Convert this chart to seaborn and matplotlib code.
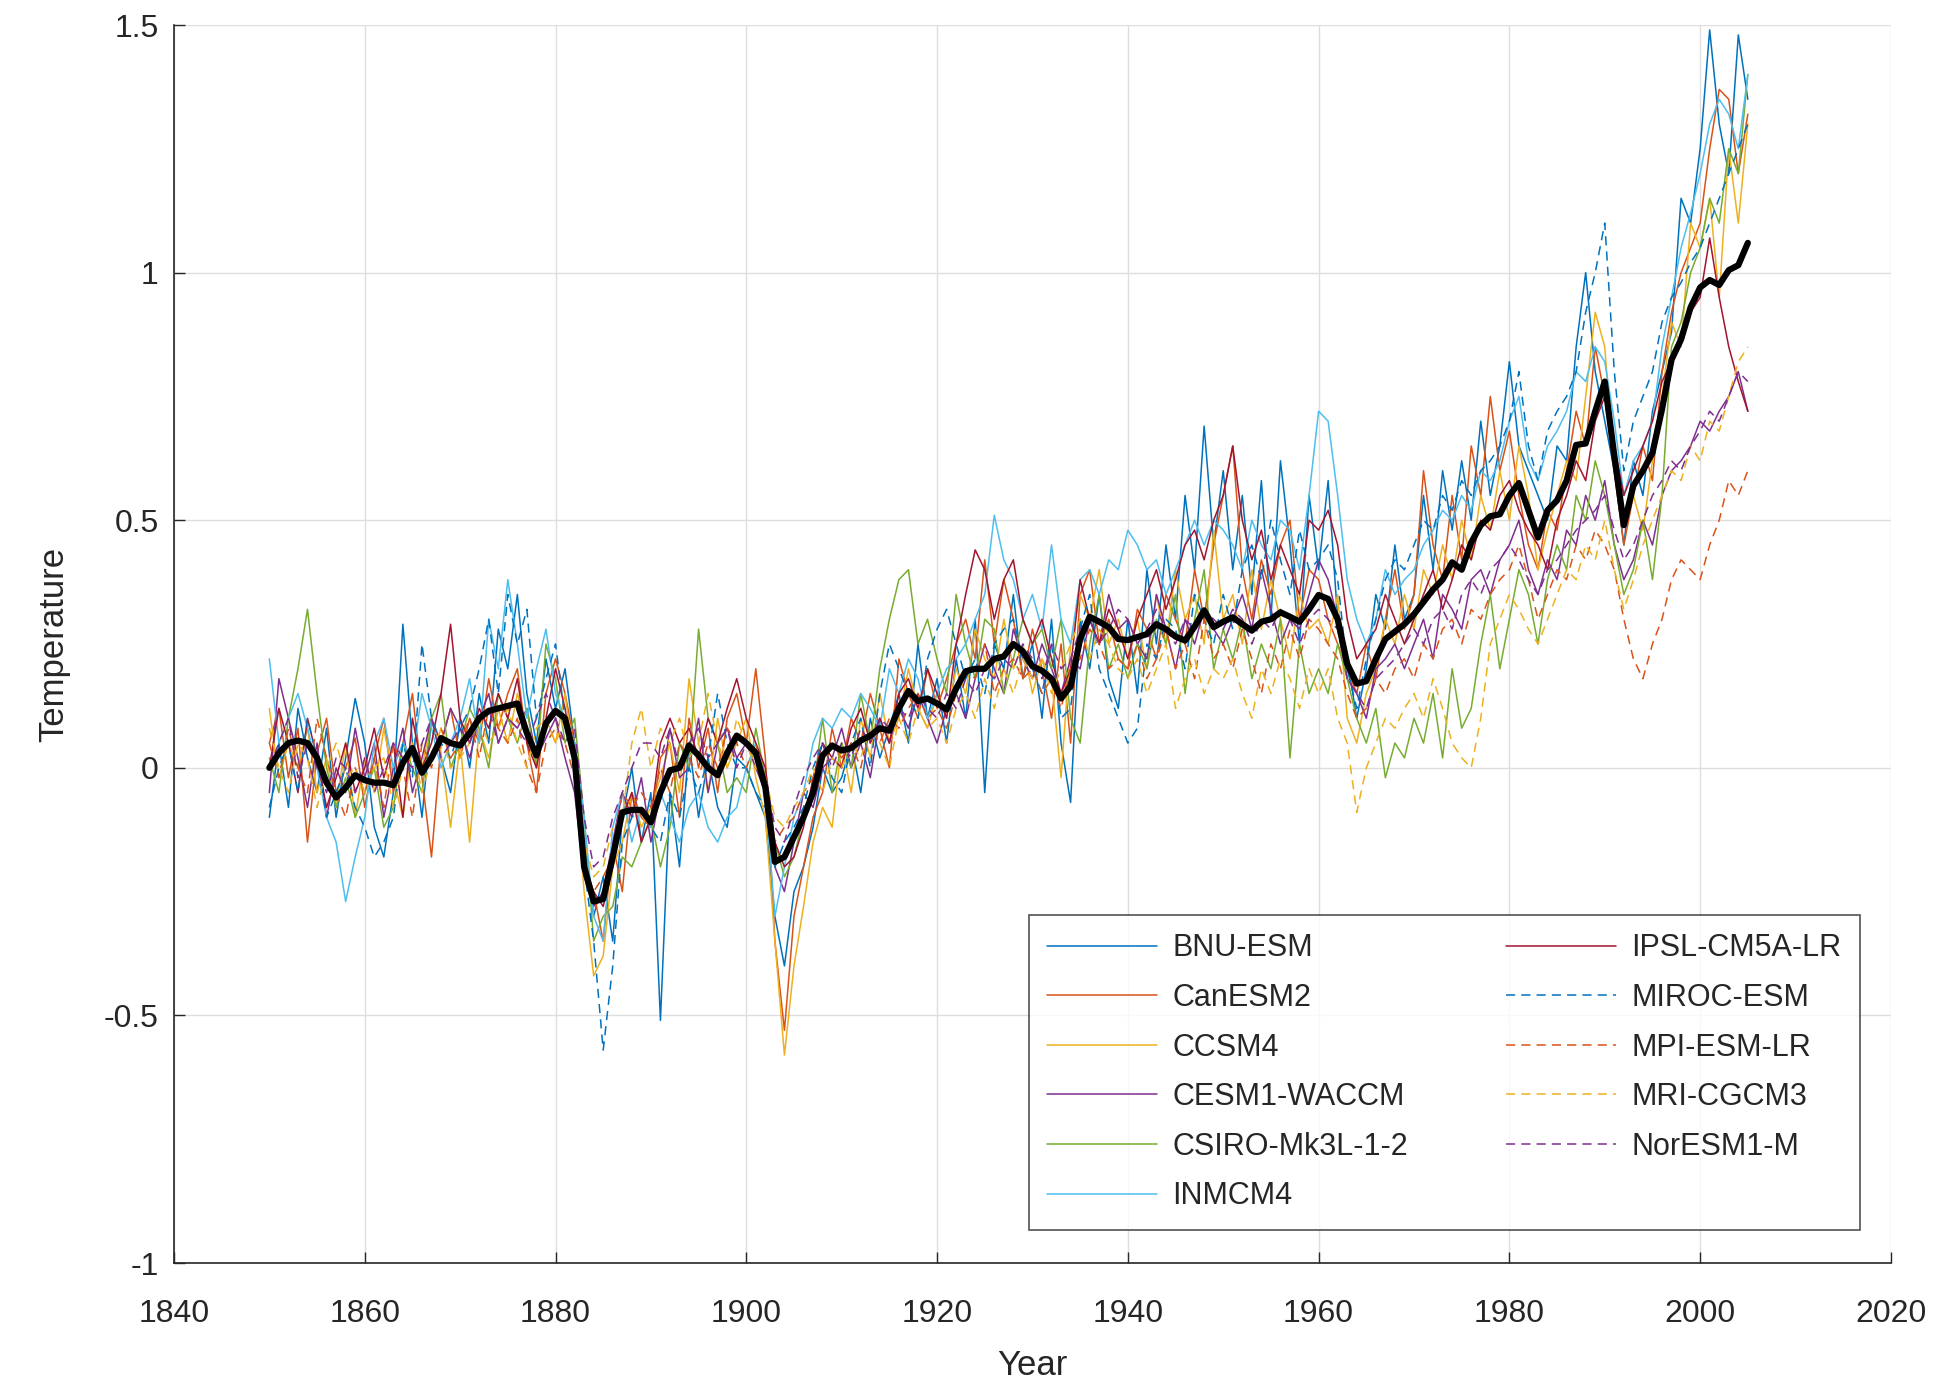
import numpy as np
import pandas as pd
import matplotlib
matplotlib.use("Agg")
import matplotlib.pyplot as plt
import seaborn as sns

years = list(range(1850, 2006))

model_names = ["BNU-ESM", "CanESM2", "CCSM4", "CESM1-WACCM", "CSIRO-Mk3L-1-2", "INMCM4",
               "IPSL-CM5A-LR", "MIROC-ESM", "MPI-ESM-LR", "MRI-CGCM3", "NorESM1-M"]

bnu_esm = [
    -0.10, 0.05, -0.08, 0.12, 0.02, -0.05, 0.08, -0.10, 0.02, 0.14,
    0.05, -0.12, -0.18, -0.05, 0.29, 0.05, -0.10, 0.10, 0.02, -0.05,
    0.10, 0.00, 0.15, 0.05, 0.28, 0.20, 0.35, 0.15, 0.05, 0.22,
    0.12, 0.20, 0.05, -0.15, -0.30, -0.22, -0.35, -0.10, 0.00, -0.15,
    -0.05, -0.51, -0.05, -0.20, 0.05, -0.10, 0.02, -0.08, -0.12, 0.02,
    0.00, -0.05, -0.10, -0.30, -0.40, -0.25, -0.20, -0.12, 0.00, -0.05,
    -0.02, 0.05, -0.05, 0.10, 0.02, 0.08, 0.15, 0.05, 0.25, 0.10,
    0.18, 0.05, 0.22, 0.10, 0.30, -0.05, 0.25, 0.20, 0.35, 0.18,
    0.25, 0.10, 0.30, 0.05, -0.07, 0.30, 0.20, 0.35, 0.18, 0.12,
    0.30, 0.15, 0.40, 0.25, 0.45, 0.30, 0.55, 0.40, 0.69, 0.45,
    0.60, 0.40, 0.55, 0.35, 0.58, 0.30, 0.62, 0.45, 0.25, 0.55,
    0.40, 0.58, 0.30, 0.22, 0.10, 0.20, 0.35, 0.28, 0.45, 0.30,
    0.35, 0.55, 0.40, 0.60, 0.48, 0.62, 0.50, 0.70, 0.55, 0.65,
    0.82, 0.65, 0.60, 0.55, 0.50, 0.65, 0.62, 0.85, 1.00, 0.80,
    0.70, 0.60, 0.45, 0.62, 0.55, 0.72, 0.80, 0.88, 1.15, 1.10,
    1.25, 1.49, 1.30, 1.20, 1.48, 1.35]

canesm2 = [
    0.05, 0.12, -0.02, 0.08, -0.15, 0.03, 0.10, -0.05, 0.00, 0.06,
    -0.08, 0.02, 0.10, -0.05, 0.05, 0.15, -0.02, -0.18, 0.05, 0.12,
    0.02, 0.10, 0.05, 0.18, 0.08, 0.15, 0.20, 0.05, -0.05, 0.15,
    0.22, 0.15, 0.05, -0.20, -0.25, -0.35, -0.15, -0.25, -0.05, -0.10,
    -0.12, 0.02, 0.05, -0.10, 0.10, 0.00, 0.08, -0.05, 0.10, 0.15,
    0.05, 0.20, 0.02, -0.35, -0.53, -0.30, -0.20, -0.10, -0.05, 0.08,
    0.00, 0.10, 0.05, 0.15, 0.08, 0.00, 0.22, 0.15, 0.10, 0.20,
    0.12, 0.18, 0.25, 0.30, 0.22, 0.42, 0.25, 0.38, 0.30, 0.18,
    0.28, 0.20, 0.10, 0.25, 0.05, 0.35, 0.40, 0.25, 0.30, 0.22,
    0.20, 0.32, 0.28, 0.22, 0.35, 0.30, 0.25, 0.40, 0.30, 0.45,
    0.55, 0.65, 0.40, 0.30, 0.42, 0.35, 0.45, 0.50, 0.30, 0.40,
    0.38, 0.30, 0.25, 0.20, 0.15, 0.25, 0.18, 0.30, 0.40, 0.28,
    0.35, 0.60, 0.45, 0.38, 0.55, 0.42, 0.65, 0.55, 0.75, 0.60,
    0.68, 0.55, 0.45, 0.40, 0.52, 0.48, 0.60, 0.72, 0.65, 0.85,
    0.75, 0.60, 0.45, 0.55, 0.65, 0.58, 0.80, 0.92, 1.00, 1.05,
    1.10, 1.25, 1.37, 1.35, 1.20, 1.32]

ccsm4 = [
    0.12, -0.02, 0.05, 0.00, 0.08, -0.05, 0.02, -0.08, 0.05, -0.10,
    0.02, -0.05, 0.08, -0.02, -0.10, 0.05, 0.00, 0.10, 0.03, -0.12,
    0.05, -0.15, 0.08, 0.02, 0.12, 0.05, 0.15, 0.08, 0.00, 0.10,
    0.05, 0.15, 0.00, -0.25, -0.42, -0.38, -0.20, -0.15, -0.05, -0.12,
    -0.08, -0.02, 0.05, -0.05, 0.18, 0.05, -0.05, 0.10, 0.00, 0.05,
    0.10, -0.02, -0.10, -0.35, -0.58, -0.40, -0.28, -0.15, -0.08, -0.12,
    0.05, -0.05, 0.10, 0.02, 0.15, 0.05, 0.10, 0.20, 0.12, 0.08,
    0.15, 0.10, 0.20, 0.15, 0.28, 0.22, 0.18, 0.30, 0.20, 0.25,
    0.15, 0.22, 0.18, -0.02, 0.25, 0.35, 0.30, 0.40, 0.25, 0.30,
    0.22, 0.30, 0.20, 0.35, 0.25, 0.40, 0.30, 0.35, 0.25, 0.48,
    0.30, 0.35, 0.25, 0.40, 0.28, 0.38, 0.30, 0.22, 0.35, 0.28,
    0.30, 0.25, 0.35, 0.10, 0.05, 0.15, 0.20, 0.30, 0.25, 0.35,
    0.28, 0.40, 0.35, 0.45, 0.38, 0.50, 0.42, 0.55, 0.48, 0.60,
    0.50, 0.65, 0.55, 0.40, 0.48, 0.55, 0.62, 0.58, 0.75, 0.92,
    0.85, 0.60, 0.50, 0.55, 0.48, 0.62, 0.75, 0.90, 0.85, 1.10,
    1.05, 1.15, 0.95, 1.25, 1.10, 1.30]

cesm1_waccm = [
    -0.05, 0.18, 0.10, 0.02, -0.08, 0.05, -0.10, 0.00, -0.05, 0.08,
    -0.02, 0.05, -0.10, 0.00, 0.08, -0.05, 0.02, 0.10, 0.05, 0.12,
    0.08, 0.02, 0.10, 0.15, 0.05, 0.10, 0.08, 0.12, 0.02, 0.06,
    0.10, 0.02, -0.05, -0.22, -0.28, -0.25, -0.15, -0.05, -0.10, -0.02,
    -0.15, -0.05, 0.08, -0.02, 0.00, 0.10, -0.05, 0.05, 0.08, 0.02,
    0.05, 0.00, -0.05, -0.20, -0.25, -0.15, -0.05, -0.08, 0.00, 0.02,
    0.08, 0.00, 0.05, -0.02, 0.10, 0.05, 0.12, 0.08, 0.15, 0.10,
    0.05, 0.12, 0.15, 0.10, 0.18, 0.25, 0.20, 0.15, 0.28, 0.22,
    0.18, 0.25, 0.20, 0.15, 0.22, 0.20, 0.30, 0.25, 0.35, 0.28,
    0.30, 0.25, 0.22, 0.35, 0.28, 0.20, 0.30, 0.25, 0.32, 0.28,
    0.25, 0.30, 0.35, 0.28, 0.40, 0.32, 0.25, 0.30, 0.28, 0.35,
    0.42, 0.38, 0.30, 0.18, 0.15, 0.10, 0.20, 0.22, 0.25, 0.20,
    0.25, 0.30, 0.22, 0.35, 0.32, 0.28, 0.38, 0.40, 0.35, 0.42,
    0.45, 0.50, 0.40, 0.35, 0.42, 0.38, 0.48, 0.45, 0.55, 0.50,
    0.58, 0.45, 0.38, 0.42, 0.50, 0.45, 0.55, 0.60, 0.62, 0.65,
    0.70, 0.68, 0.72, 0.75, 0.80, 0.72]

csiro_mk3l = [
    0.02, -0.05, 0.10, 0.20, 0.32, 0.15, 0.00, -0.08, -0.02, -0.10,
    -0.05, 0.00, -0.12, -0.08, 0.05, 0.00, -0.05, 0.10, 0.15, 0.00,
    0.05, 0.12, 0.08, 0.00, 0.15, 0.10, 0.05, 0.12, 0.00, 0.25,
    0.18, 0.05, 0.10, -0.10, -0.35, -0.30, -0.28, -0.18, -0.20, -0.15,
    -0.10, -0.20, -0.12, 0.05, 0.00, 0.28, 0.10, 0.05, -0.05, -0.02,
    -0.05, 0.08, -0.02, -0.15, -0.22, -0.18, -0.10, -0.05, 0.10, -0.05,
    0.05, 0.00, 0.15, 0.05, 0.20, 0.30, 0.38, 0.40, 0.25, 0.30,
    0.22, 0.15, 0.35, 0.25, 0.18, 0.30, 0.28, 0.15, 0.22, 0.30,
    0.25, 0.28, 0.20, 0.30, 0.10, 0.05, 0.25, 0.35, 0.20, 0.25,
    0.18, 0.25, 0.20, 0.30, 0.25, 0.35, 0.15, 0.30, 0.40, 0.20,
    0.28, 0.22, 0.30, 0.18, 0.25, 0.20, 0.30, 0.02, 0.25, 0.15,
    0.20, 0.15, 0.25, 0.18, 0.10, 0.05, 0.12, -0.02, 0.05, 0.02,
    0.10, 0.05, 0.15, 0.02, 0.20, 0.08, 0.12, 0.25, 0.35, 0.20,
    0.30, 0.40, 0.35, 0.25, 0.38, 0.45, 0.40, 0.55, 0.50, 0.62,
    0.55, 0.45, 0.35, 0.40, 0.50, 0.38, 0.55, 0.85, 0.90, 1.00,
    1.05, 1.15, 1.10, 1.25, 1.20, 1.40]

inmcm4 = [
    0.22, 0.05, 0.10, 0.15, 0.08, 0.00, -0.10, -0.15, -0.27, -0.18,
    -0.10, 0.05, 0.10, 0.00, 0.05, 0.02, 0.15, 0.08, 0.00, 0.05,
    0.10, 0.18, 0.05, 0.30, 0.20, 0.38, 0.25, 0.10, 0.20, 0.28,
    0.15, 0.10, 0.05, -0.10, -0.30, -0.35, -0.12, -0.05, -0.15, -0.08,
    -0.12, -0.05, -0.10, -0.15, -0.08, -0.05, -0.12, -0.15, -0.10, -0.08,
    0.00, 0.05, -0.05, -0.30, -0.20, -0.10, -0.05, 0.05, 0.10, 0.08,
    0.12, 0.10, 0.15, 0.12, 0.08, 0.20, 0.15, 0.22, 0.18, 0.10,
    0.15, 0.20, 0.22, 0.25, 0.30, 0.35, 0.51, 0.42, 0.38, 0.30,
    0.35, 0.28, 0.45, 0.30, 0.25, 0.38, 0.40, 0.35, 0.42, 0.40,
    0.48, 0.45, 0.40, 0.42, 0.35, 0.40, 0.45, 0.50, 0.45, 0.50,
    0.48, 0.45, 0.40, 0.50, 0.45, 0.42, 0.50, 0.48, 0.40, 0.55,
    0.72, 0.70, 0.55, 0.38, 0.30, 0.25, 0.30, 0.40, 0.35, 0.38,
    0.40, 0.45, 0.48, 0.52, 0.50, 0.55, 0.52, 0.60, 0.58, 0.62,
    0.70, 0.75, 0.62, 0.58, 0.65, 0.68, 0.72, 0.80, 0.78, 0.85,
    0.82, 0.70, 0.55, 0.62, 0.65, 0.70, 0.85, 0.95, 1.05, 1.12,
    1.20, 1.30, 1.35, 1.32, 1.25, 1.40]

ipsl_cm5a_lr = [
    0.00, 0.12, 0.05, -0.05, 0.10, 0.02, -0.08, -0.02, 0.05, -0.05,
    0.00, 0.08, -0.02, 0.05, -0.10, 0.10, 0.00, 0.05, 0.15, 0.29,
    0.10, 0.05, 0.12, 0.08, 0.15, 0.10, 0.18, 0.05, 0.00, 0.10,
    0.20, 0.12, 0.00, -0.20, -0.25, -0.28, -0.20, -0.10, -0.05, -0.15,
    -0.10, 0.05, 0.10, 0.05, 0.08, 0.02, 0.10, 0.05, 0.12, 0.18,
    0.10, 0.05, 0.00, -0.15, -0.20, -0.18, -0.12, -0.02, 0.05, 0.02,
    0.00, 0.08, 0.12, 0.05, 0.10, 0.05, 0.15, 0.18, 0.12, 0.20,
    0.15, 0.10, 0.25, 0.35, 0.44, 0.40, 0.30, 0.38, 0.42, 0.30,
    0.25, 0.30, 0.22, 0.15, 0.20, 0.38, 0.30, 0.25, 0.32, 0.28,
    0.22, 0.30, 0.35, 0.40, 0.32, 0.38, 0.45, 0.48, 0.42, 0.50,
    0.55, 0.65, 0.50, 0.42, 0.48, 0.38, 0.45, 0.40, 0.35, 0.50,
    0.48, 0.52, 0.45, 0.30, 0.22, 0.25, 0.28, 0.35, 0.30, 0.25,
    0.30, 0.35, 0.40, 0.32, 0.38, 0.45, 0.42, 0.50, 0.48, 0.55,
    0.58, 0.52, 0.48, 0.45, 0.40, 0.50, 0.55, 0.62, 0.58, 0.70,
    0.75, 0.65, 0.55, 0.60, 0.65, 0.70, 0.78, 0.82, 0.88, 0.92,
    0.95, 1.07, 0.95, 0.85, 0.78, 0.72]

miroc_esm = [
    -0.08, 0.00, 0.05, -0.05, 0.10, 0.02, -0.10, -0.05, 0.00, -0.08,
    -0.12, -0.18, -0.15, -0.10, 0.05, -0.02, 0.25, 0.10, 0.05, 0.02,
    0.08, 0.12, 0.20, 0.30, 0.15, 0.35, 0.25, 0.32, 0.10, 0.18,
    0.25, 0.10, 0.00, -0.20, -0.35, -0.57, -0.40, -0.15, -0.10, -0.08,
    -0.12, -0.15, -0.05, -0.10, 0.00, -0.05, 0.02, 0.15, 0.05, 0.00,
    0.00, -0.05, -0.08, -0.20, -0.15, -0.12, -0.08, 0.00, 0.05, -0.02,
    -0.05, 0.05, 0.10, 0.00, 0.15, 0.25, 0.20, 0.15, 0.10, 0.22,
    0.28, 0.32, 0.25, 0.18, 0.22, 0.15, 0.25, 0.28, 0.30, 0.22,
    0.20, 0.15, 0.25, 0.10, 0.12, 0.28, 0.35, 0.20, 0.15, 0.10,
    0.05, 0.08, 0.25, 0.22, 0.30, 0.28, 0.20, 0.35, 0.30, 0.25,
    0.35, 0.28, 0.40, 0.45, 0.38, 0.50, 0.42, 0.35, 0.48, 0.40,
    0.42, 0.45, 0.38, 0.20, 0.12, 0.22, 0.30, 0.38, 0.42, 0.40,
    0.45, 0.50, 0.48, 0.55, 0.52, 0.58, 0.55, 0.60, 0.62, 0.65,
    0.70, 0.80, 0.65, 0.58, 0.68, 0.72, 0.75, 0.80, 0.92, 1.00,
    1.10, 0.80, 0.60, 0.70, 0.75, 0.80, 0.90, 0.95, 0.98, 1.02,
    1.05, 1.10, 1.15, 1.20, 1.25, 1.30]

mpi_esm_lr = [
    0.05, -0.02, 0.08, 0.00, -0.05, 0.10, 0.02, -0.05, -0.10, 0.00,
    -0.05, 0.02, -0.08, 0.05, 0.00, -0.10, 0.05, 0.00, 0.08, 0.02,
    0.05, 0.10, 0.02, 0.12, 0.08, 0.05, 0.10, 0.00, -0.05, 0.05,
    0.08, 0.05, -0.02, -0.20, -0.25, -0.22, -0.18, -0.05, -0.08, -0.05,
    -0.08, 0.00, -0.05, 0.05, 0.02, -0.02, 0.05, 0.00, 0.08, 0.05,
    0.00, 0.05, -0.05, -0.15, -0.12, -0.10, -0.05, -0.02, 0.02, 0.05,
    0.02, 0.05, 0.00, 0.08, 0.05, 0.10, 0.08, 0.12, 0.15, 0.10,
    0.12, 0.08, 0.15, 0.20, 0.18, 0.25, 0.15, 0.20, 0.22, 0.18,
    0.20, 0.15, 0.18, 0.12, 0.20, 0.22, 0.28, 0.25, 0.20, 0.22,
    0.20, 0.25, 0.18, 0.22, 0.28, 0.20, 0.25, 0.18, 0.30, 0.22,
    0.25, 0.20, 0.28, 0.22, 0.15, 0.25, 0.20, 0.28, 0.22, 0.30,
    0.28, 0.25, 0.22, 0.15, 0.10, 0.12, 0.18, 0.15, 0.20, 0.22,
    0.18, 0.25, 0.22, 0.28, 0.30, 0.25, 0.32, 0.30, 0.35, 0.38,
    0.40, 0.45, 0.38, 0.30, 0.35, 0.40, 0.38, 0.45, 0.42, 0.48,
    0.45, 0.40, 0.30, 0.22, 0.18, 0.25, 0.30, 0.38, 0.42, 0.40,
    0.38, 0.45, 0.50, 0.58, 0.55, 0.60]

mri_cgcm3 = [
    0.08, 0.00, -0.05, 0.05, 0.02, -0.08, 0.00, 0.05, -0.02, 0.00,
    -0.05, 0.00, 0.02, -0.08, 0.00, 0.05, -0.05, 0.02, 0.08, 0.00,
    0.02, 0.05, 0.10, 0.05, 0.08, 0.12, 0.05, 0.00, 0.08, 0.10,
    0.05, 0.10, 0.00, -0.15, -0.22, -0.20, -0.12, -0.10, 0.05, 0.12,
    0.00, 0.08, 0.05, 0.10, 0.02, 0.05, 0.15, 0.05, 0.00, 0.10,
    0.05, 0.00, -0.02, -0.10, -0.12, -0.08, -0.05, 0.00, -0.05, 0.02,
    0.00, 0.05, 0.02, 0.08, 0.05, 0.00, 0.10, 0.05, 0.12, 0.08,
    0.10, 0.05, 0.12, 0.15, 0.10, 0.18, 0.12, 0.20, 0.15, 0.22,
    0.18, 0.22, 0.15, 0.20, 0.25, 0.30, 0.22, 0.28, 0.25, 0.20,
    0.18, 0.22, 0.15, 0.20, 0.25, 0.12, 0.18, 0.22, 0.15, 0.20,
    0.18, 0.22, 0.15, 0.10, 0.20, 0.15, 0.22, 0.18, 0.12, 0.20,
    0.15, 0.20, 0.10, 0.05, -0.09, 0.00, 0.05, 0.10, 0.08, 0.12,
    0.15, 0.10, 0.18, 0.12, 0.05, 0.02, 0.00, 0.10, 0.25, 0.30,
    0.35, 0.32, 0.28, 0.25, 0.30, 0.35, 0.40, 0.38, 0.45, 0.42,
    0.50, 0.40, 0.32, 0.38, 0.45, 0.50, 0.55, 0.60, 0.58, 0.65,
    0.62, 0.70, 0.68, 0.75, 0.82, 0.85]

noresm1_m = [
    0.00, 0.05, 0.10, -0.02, 0.05, 0.00, -0.05, 0.02, 0.00, -0.05,
    0.02, -0.05, 0.00, 0.05, 0.02, 0.00, 0.05, 0.10, 0.02, 0.05,
    0.08, 0.05, 0.10, 0.12, 0.05, 0.10, 0.08, 0.05, 0.10, 0.15,
    0.10, 0.05, 0.08, -0.10, -0.20, -0.18, -0.10, -0.05, 0.00, 0.05,
    0.05, 0.02, 0.08, 0.00, 0.05, 0.08, 0.02, 0.05, 0.08, 0.00,
    0.05, 0.02, -0.02, -0.12, -0.15, -0.08, -0.02, 0.02, 0.05, 0.00,
    0.05, 0.02, 0.08, 0.05, 0.10, 0.08, 0.12, 0.10, 0.15, 0.12,
    0.10, 0.15, 0.12, 0.18, 0.15, 0.20, 0.18, 0.22, 0.20, 0.25,
    0.22, 0.18, 0.25, 0.20, 0.22, 0.28, 0.30, 0.25, 0.28, 0.32,
    0.30, 0.25, 0.28, 0.32, 0.28, 0.25, 0.30, 0.28, 0.32, 0.30,
    0.28, 0.32, 0.30, 0.25, 0.30, 0.28, 0.32, 0.30, 0.25, 0.30,
    0.32, 0.30, 0.28, 0.18, 0.15, 0.12, 0.18, 0.20, 0.22, 0.25,
    0.28, 0.25, 0.30, 0.32, 0.28, 0.35, 0.38, 0.35, 0.40, 0.42,
    0.45, 0.42, 0.38, 0.35, 0.40, 0.42, 0.45, 0.48, 0.50, 0.52,
    0.55, 0.48, 0.42, 0.45, 0.50, 0.55, 0.58, 0.62, 0.60, 0.65,
    0.68, 0.72, 0.70, 0.75, 0.80, 0.78]

ensemble_mean = [
    0.00, 0.03, 0.05, 0.055, 0.05, 0.02, -0.03, -0.06, -0.04, -0.015,
    -0.025, -0.03, -0.03, -0.035, 0.01, 0.04, -0.01, 0.02, 0.06, 0.05,
    0.045, 0.07, 0.10, 0.115, 0.12, 0.125, 0.13, 0.07, 0.025, 0.09,
    0.115, 0.10, 0.02, -0.20, -0.27, -0.265, -0.18, -0.09, -0.085, -0.085,
    -0.11, -0.05, -0.005, 0.00, 0.045, 0.025, 0.00, -0.015, 0.03, 0.065,
    0.05, 0.03, -0.04, -0.19, -0.18, -0.14, -0.10, -0.05, 0.025, 0.045,
    0.035, 0.04, 0.055, 0.065, 0.08, 0.075, 0.12, 0.155, 0.135, 0.14,
    0.13, 0.118, 0.16, 0.195, 0.20, 0.20, 0.22, 0.225, 0.25, 0.235,
    0.205, 0.196, 0.18, 0.14, 0.165, 0.26, 0.305, 0.295, 0.284, 0.26,
    0.258, 0.264, 0.27, 0.29, 0.28, 0.265, 0.257, 0.285, 0.318, 0.284,
    0.295, 0.304, 0.29, 0.277, 0.295, 0.30, 0.314, 0.305, 0.295, 0.32,
    0.349, 0.341, 0.30, 0.21, 0.17, 0.175, 0.22, 0.26, 0.275, 0.29,
    0.31, 0.335, 0.36, 0.38, 0.415, 0.40, 0.455, 0.49, 0.508, 0.512,
    0.55, 0.575, 0.52, 0.465, 0.52, 0.54, 0.58, 0.652, 0.655, 0.72,
    0.78, 0.63, 0.49, 0.57, 0.60, 0.636, 0.724, 0.824, 0.865, 0.93,
    0.97, 0.985, 0.975, 1.005, 1.015, 1.06]

series = [bnu_esm, canesm2, ccsm4, cesm1_waccm, csiro_mk3l, inmcm4,
          ipsl_cm5a_lr, miroc_esm, mpi_esm_lr, mri_cgcm3, noresm1_m]
colors = ["#0072BD", "#D95319", "#EDB120", "#7E2F8E", "#77AC30", "#4DBEEE",
          "#A2142F", "#0072BD", "#D95319", "#EDB120", "#7E2F8E"]
dashed = [False] * 7 + [True] * 4

x_ticks = [1840, 1860, 1880, 1900, 1920, 1940, 1960, 1980, 2000, 2020]
y_ticks = [-1, -0.5, 0, 0.5, 1, 1.5]

sns.set_theme(style="white")
plt.rcParams["font.family"] = ["Liberation Sans", "DejaVu Sans"]
plt.rcParams["axes.unicode_minus"] = False

fig = plt.figure(figsize=(19.48, 13.89), dpi=100)
ax = fig.add_axes([0.0893, 0.0907, 0.8814, 0.8913])

for name, vals, col, dsh in zip(model_names, series, colors, dashed):
    df = pd.DataFrame({"Year": years, "Temperature": vals})
    sns.lineplot(data=df, x="Year", y="Temperature", ax=ax, color=col,
                 linewidth=1.1, label=name,
                 linestyle=(0, (6, 4)) if dsh else "-")

df_mean = pd.DataFrame({"Year": years, "Temperature": ensemble_mean})
sns.lineplot(data=df_mean, x="Year", y="Temperature", ax=ax, color="black",
             linewidth=4.5, label="_nolegend_")

ax.set_xlim(1840, 2020)
ax.set_ylim(-1, 1.5)
ax.set_xticks(x_ticks)
ax.set_yticks(y_ticks)
ax.set_yticklabels(["%g" % v for v in y_ticks])
ax.grid(True, color="#dedede", linewidth=1.0)
ax.set_axisbelow(True)
for s in ["top", "right"]:
    ax.spines[s].set_visible(False)
for s in ["left", "bottom"]:
    ax.spines[s].set_color("#262626")
    ax.spines[s].set_linewidth(1.2)
ax.tick_params(axis="both", direction="in", length=8, width=1.0,
               colors="#262626", labelsize=23, left=True, bottom=True)
ax.tick_params(axis="x", pad=26)
ax.tick_params(axis="y", pad=11)
ax.set_xlabel("Year", fontsize=25, color="#262626", labelpad=14)
ax.set_ylabel("Temperature", fontsize=25, color="#262626", labelpad=24)

leg = ax.legend(loc="lower left", bbox_to_anchor=(0.498, 0.027, 0.484, 0.246),
                mode="expand", ncol=2, fontsize=22, frameon=True,
                handlelength=3.6, labelspacing=0.64, borderpad=0.6,
                borderaxespad=0.0,
                columnspacing=1.0, handletextpad=0.5, fancybox=False)
leg.get_frame().set_edgecolor("#262626")
leg.get_frame().set_linewidth(1.2)
for t in leg.get_texts():
    t.set_color("#262626")

fig.savefig("out.png", dpi=100, facecolor="white")
